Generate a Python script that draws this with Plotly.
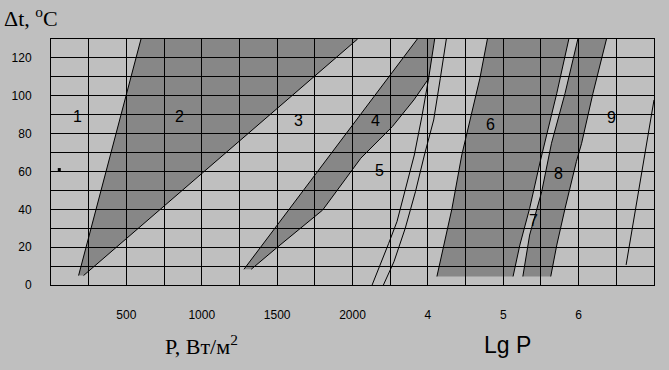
import plotly.graph_objects as go

# ---------------- data ----------------
# Left part of the chart: linear scale P, W/m2
zone2_P = [183, 216, 2034, 597]
zone2_dt = [5, 5, 130, 130]

zone4_P = [1280, 1328, 1493, 1802, 2055, 2264, 2407, 2506, 2543, 2430]
zone4_dt = [8.3, 8.3, 19.4, 39.6, 67, 83.7, 97.8, 109.2, 130, 130]

# Right part of the chart: logarithmic scale Lg P
trans_left_lg = [3.26, 3.35, 3.48, 3.59, 3.70, 3.82, 3.92, 4.01, 4.09]
trans_left_dt = [0, 8.8, 22, 33.5, 51.1, 68.7, 88.9, 109.2, 130]
trans_right_lg = [3.41, 3.55, 3.70, 3.835, 3.954, 4.077, 4.165, 4.245]
trans_right_dt = [0, 12.3, 30, 49.3, 68.7, 87.2, 109.2, 130]

zone6_left_lg = [4.12, 4.21, 4.32, 4.45, 4.58, 4.69, 4.79]
zone6_left_dt = [4.5, 21.1, 40.5, 68.7, 89.8, 109.2, 130]
zone6_right_lg = [5.13, 5.22, 5.35, 5.49, 5.71, 5.87]
zone6_right_dt = [4.5, 21.1, 40.5, 65.2, 101.3, 130]

zone8_left_lg = [5.26, 5.35, 5.51, 5.64, 5.82, 5.99]
zone8_left_dt = [4.5, 26.4, 49.3, 74.9, 101.3, 130]
zone8_right_lg = [5.63, 5.71, 5.82, 5.97, 6.04, 6.19, 6.37]
zone8_right_dt = [4.5, 21.1, 40.5, 65.2, 74.9, 101.3, 130]

line9_lg = [6.63, 7.0]
line9_dt = [10.6, 97.8]

# zone labels
labels_P_text = ["1", "2", "3", "4", "5"]
labels_P_x = [178, 852, 1639, 2154, 2181]
labels_P_y = [88.8, 88.8, 86.7, 86.7, 60.3]
labels_lg_text = ["6", "7", "8", "9"]
labels_lg_x = [4.835, 5.398, 5.729, 6.434]
labels_lg_y = [84.9, 34.3, 59.0, 88.6]

dot_P = [55]
dot_dt = [61]

P_ticks = [500, 1000, 1500, 2000]
lg_ticks = [4, 5, 6]
dt_ticks = [0, 20, 40, 60, 80, 100, 120]

# ---------------- styling ----------------
BG = "#bfbfbf"
FILL = "rgba(0,0,0,0.295)"
SANS = "Liberation Sans, Arial, sans-serif"
SERIF = "Liberation Serif, Times New Roman, serif"

fig = go.Figure()


def fill_poly(xs, ys, xaxis):
    fig.add_trace(go.Scatter(x=xs + [xs[0]], y=ys + [ys[0]], xaxis=xaxis, yaxis="y",
                             mode="lines", fill="toself", fillcolor=FILL,
                             line=dict(width=0, color="rgba(0,0,0,0)"),
                             hoverinfo="skip", showlegend=False))


def edge(xs, ys, xaxis):
    fig.add_trace(go.Scatter(x=xs, y=ys, xaxis=xaxis, yaxis="y", mode="lines",
                             line=dict(color="black", width=1),
                             hoverinfo="skip", showlegend=False))


# zone 2
fill_poly(zone2_P, zone2_dt, "x")
edge([zone2_P[0], zone2_P[3]], [zone2_dt[0], zone2_dt[3]], "x")
edge([zone2_P[1], zone2_P[2]], [zone2_dt[1], zone2_dt[2]], "x")

# zone 4
fill_poly(zone4_P, zone4_dt, "x")
edge([zone4_P[0], zone4_P[-1]], [zone4_dt[0], zone4_dt[-1]], "x")
edge(zone4_P[1:8], zone4_dt[1:8], "x")

# transition band (between 5 and 6)
edge(trans_left_lg, trans_left_dt, "x2")
edge(trans_right_lg, trans_right_dt, "x2")

# zone 6
fill_poly(zone6_left_lg + zone6_right_lg[::-1], zone6_left_dt + zone6_right_dt[::-1], "x2")
edge(zone6_left_lg, zone6_left_dt, "x2")
edge(zone6_right_lg, zone6_right_dt, "x2")

# zone 8
fill_poly(zone8_left_lg + zone8_right_lg[::-1], zone8_left_dt + zone8_right_dt[::-1], "x2")
edge(zone8_left_lg, zone8_left_dt, "x2")
edge(zone8_right_lg, zone8_right_dt, "x2")

# line 9
edge(line9_lg, line9_dt, "x2")

# small dot
fig.add_trace(go.Scatter(x=dot_P, y=dot_dt, mode="markers", xaxis="x", yaxis="y",
                         marker=dict(symbol="square", size=3, color="black"),
                         hoverinfo="skip", showlegend=False))

annotations = []
for t, xv, yv in zip(labels_P_text, labels_P_x, labels_P_y):
    annotations.append(dict(text=t, x=xv, y=yv, xref="x", yref="y", showarrow=False,
                            xanchor="center", yanchor="middle",
                            font=dict(family=SANS, size=16, color="black")))
for t, xv, yv in zip(labels_lg_text, labels_lg_x, labels_lg_y):
    annotations.append(dict(text=t, x=xv, y=yv, xref="x2", yref="y", showarrow=False,
                            xanchor="center", yanchor="middle",
                            font=dict(family=SANS, size=16, color="black")))

annotations += [
    dict(text="Δt, <sup>o</sup>C", xref="paper", yref="paper", x=-0.033, y=1.089,
         xanchor="center", yanchor="middle", showarrow=False,
         font=dict(family=SERIF, size=22, color="black")),
    dict(text="P, Вт/м<sup>2</sup>", xref="paper", yref="paper", x=0.2495, y=-0.244,
         xanchor="center", yanchor="middle", showarrow=False,
         font=dict(family=SERIF, size=22, color="black")),
    dict(text="Lg P", xref="paper", yref="paper", x=0.7566, y=-0.244,
         xanchor="center", yanchor="middle", showarrow=False,
         font=dict(family=SANS, size=23, color="black")),
]

fig.update_layout(
    width=669, height=370,
    margin=dict(l=49, r=15, t=39, b=85),
    paper_bgcolor=BG, plot_bgcolor=BG,
    showlegend=False,
    xaxis=dict(range=[0, 4000], tickvals=P_ticks, ticktext=[str(v) for v in P_ticks],
               showgrid=True, gridcolor="black", gridwidth=1,
               minor=dict(tick0=0, dtick=250, showgrid=True, gridcolor="black", gridwidth=1),
               showline=True, mirror=True, linecolor="black", linewidth=1,
               zeroline=False, ticks="outside", ticklen=19, tickcolor="rgba(0,0,0,0)",
               tickfont=dict(family=SANS, size=12, color="black"), fixedrange=True),
    xaxis2=dict(range=[-1, 7], overlaying="x", anchor="y", side="bottom",
                tickvals=lg_ticks, ticktext=[str(v) for v in lg_ticks],
                showgrid=False, showline=False, zeroline=False,
                ticks="outside", ticklen=19, tickcolor="rgba(0,0,0,0)",
                tickfont=dict(family=SANS, size=12, color="black"), fixedrange=True),
    yaxis=dict(range=[0, 130], tickvals=dt_ticks, ticktext=[str(v) for v in dt_ticks],
               showgrid=True, gridcolor="black", gridwidth=1,
               minor=dict(tick0=0, dtick=10, showgrid=True, gridcolor="black", gridwidth=1),
               showline=True, mirror=True, linecolor="black", linewidth=1,
               zeroline=False, ticks="outside", ticklen=16, tickcolor="rgba(0,0,0,0)",
               tickfont=dict(family=SANS, size=12, color="black"), fixedrange=True),
    annotations=annotations,
)

fig.write_html("out.html")
